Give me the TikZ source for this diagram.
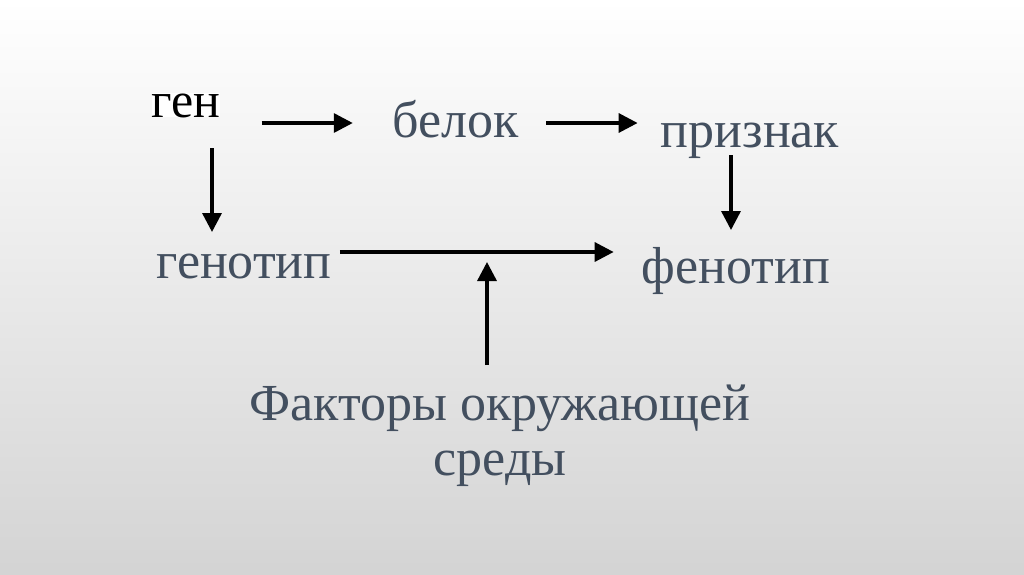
\documentclass[tikz,border=0pt]{standalone}
\usepackage{fontspec}
\setmainfont{Liberation Serif}
\usepackage{tikz}
\usetikzlibrary{arrows.meta,calc,positioning}
\definecolor{cText}{HTML}{434F5F}
\definecolor{cArrow}{HTML}{000000}
\tikzset{
  >={Triangle[length=19pt,width=19pt]},
  arr/.style    ={->,line width=3.4pt,cArrow},
  term/.style   ={inner sep=0pt,anchor=base,text=cText,font=\fontsize{52}{56}\selectfont},
  gene/.style   ={term,text=black,fill=white,font=\fontsize{50}{56}\selectfont},
}
\begin{document}
\begin{tikzpicture}[x=1pt,y=-1pt]
  \shade[top color=white,middle color=black!4,bottom color=black!17] (0,0) rectangle (1024,574);
  \useasboundingbox (0,0) rectangle (1024,574);
  \node[gene] (gen)     at (186,117) {ген};
  \node[term] (belok)   at (456,137) {белок};
  \node[term] (priznak) at (750,147) {признак};
  \node[term] (genotip) at (244,278) {генотип};
  \node[term] (fenotip) at (736,283) {фенотип};
  \node[term,align=center,font=\fontsize{52}{55}\selectfont] (factors) at (500,475) {Факторы окружающей\\среды};
  \coordinate (hit) at (487,262);
  \draw[arr] ([shift={(41,6)}]gen.base east) -- ([shift={(-40,-14)}]belok.base west);
  \draw[arr] ([shift={(27,-14)}]belok.base east) -- ([shift={(-23,-24)}]priznak.base west);
  \draw[arr] ([shift={(26,31)}]gen.base) -- ([shift={(-32,-46)}]genotip.base);
  \draw[arr] ([shift={(-19,8)}]priznak.base) -- ([shift={(-5,-53)}]fenotip.base);
  \draw[arr] ([shift={(8,-26)}]genotip.base east) -- ([shift={(-28,-31)}]fenotip.base west);
  \draw[arr] ([shift={(-13,-110)}]factors.base) -- (hit);
\end{tikzpicture}
\end{document}
